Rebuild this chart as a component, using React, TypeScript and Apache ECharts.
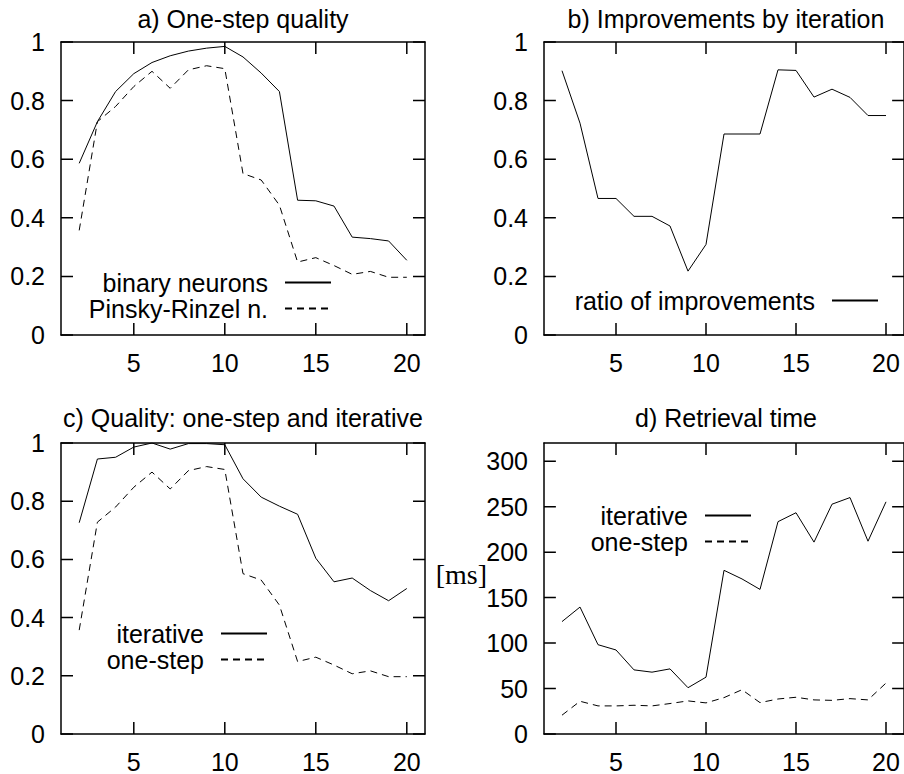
import React, { useEffect, useRef } from 'react';
import * as echarts from 'echarts';

const steps = [2, 3, 4, 5, 6, 7, 8, 9, 10, 11, 12, 13, 14, 15, 16, 17, 18, 19, 20];
const binaryNeurons = [0.586, 0.728, 0.831, 0.892, 0.93, 0.953, 0.969, 0.979, 0.985, 0.949, 0.894, 0.831, 0.46, 0.458, 0.44, 0.334, 0.329, 0.321, 0.255];
const pinskyRinzel = [0.357, 0.728, 0.78, 0.848, 0.9, 0.842, 0.905, 0.919, 0.909, 0.551, 0.529, 0.443, 0.249, 0.264, 0.237, 0.207, 0.217, 0.197, 0.197];
const ratioImprovements = [0.902, 0.723, 0.466, 0.466, 0.405, 0.405, 0.372, 0.218, 0.309, 0.686, 0.686, 0.686, 0.905, 0.903, 0.812, 0.839, 0.811, 0.749, 0.749];
const qualityIterative = [0.726, 0.945, 0.951, 0.986, 1.0, 0.979, 0.998, 0.998, 0.994, 0.877, 0.814, 0.783, 0.755, 0.604, 0.523, 0.536, 0.493, 0.458, 0.5];
const qualityOneStep = [0.357, 0.728, 0.78, 0.848, 0.9, 0.842, 0.905, 0.919, 0.909, 0.551, 0.529, 0.443, 0.249, 0.264, 0.237, 0.207, 0.217, 0.197, 0.197];
const timeIterative = [123.6, 139.6, 98.2, 92.4, 70.5, 68, 71.6, 50.9, 62.5, 180, 170.5, 159, 233.5, 243.3, 211, 252.7, 260, 212, 255.3];
const timeOneStep = [20.7, 36, 30.9, 30.9, 31.6, 30.9, 33.5, 36.4, 34.2, 40, 48.7, 34.5, 38.5, 40.4, 37.5, 37, 38.9, 37.5, 56];

const xTicks = [5, 10, 15, 20];
const qualityTicks = [0, 0.2, 0.4, 0.6, 0.8, 1];
const timeTicks = [0, 50, 100, 150, 200, 250, 300];

const titles = ['a) One-step quality', 'b) Improvements by iteration', 'c) Quality: one-step and iterative', 'd) Retrieval time'];

const SANS = '"Liberation Sans", Arial, Helvetica, sans-serif';
const FS = 25;
const X_MIN = 1;
const X_MAX = 21;

export default function App() {
  const ref = useRef<HTMLDivElement>(null);

  useEffect(() => {
    if (!ref.current) return;
    const chart = echarts.init(ref.current, null, { renderer: 'svg' });

    const grids = [
      { left: 61, top: 42, width: 364, height: 293 },
      { left: 544, top: 42, width: 364, height: 293 },
      { left: 61, top: 443, width: 364, height: 293 },
      { left: 544, top: 443, width: 364, height: 293 },
    ];
    const titlePos = [
      { x: 243, y: 19 },
      { x: 726, y: 19 },
      { x: 243, y: 417.5 },
      { x: 726, y: 418 },
    ];
    const yMaxes = [1, 1, 1, 320];
    const yTickSets = [qualityTicks, qualityTicks, qualityTicks, timeTicks];

    const mkLine = () => ({ show: true, onZero: false, lineStyle: { color: '#000', width: 1.5 } });

    const xAxes: any[] = [];
    const yAxes: any[] = [];
    for (let i = 0; i < 4; i++) {
      xAxes.push({
        gridIndex: i, type: 'value', min: X_MIN, max: X_MAX, position: 'bottom',
        axisLine: mkLine(),
        axisTick: { show: false },
        axisLabel: { show: true, customValues: xTicks, fontSize: FS, color: '#000', fontFamily: SANS, margin: 15 },
        splitLine: { show: false },
      });
    }
    for (let i = 0; i < 4; i++) {
      xAxes.push({
        gridIndex: i, type: 'value', min: X_MIN, max: X_MAX, position: 'top',
        axisLine: mkLine(),
        axisTick: { show: false },
        axisLabel: { show: false },
        splitLine: { show: false },
      });
    }
    for (let i = 0; i < 4; i++) {
      const ax: any = {
        gridIndex: i, type: 'value', min: 0, max: yMaxes[i], position: 'left',
        axisLine: mkLine(),
        axisTick: { show: false },
        axisLabel: { show: true, customValues: yTickSets[i], fontSize: FS, color: '#000', fontFamily: SANS, margin: 16 },
        splitLine: { show: false },
      };
      if (i === 3) {
        ax.name = '[ms]';
        ax.nameLocation = 'middle';
        ax.nameRotate = 0;
        ax.nameGap = 57;
        ax.nameMoveOverlap = false;
        ax.nameTextStyle = { fontFamily: '"Liberation Serif", "Times New Roman", serif', fontSize: 28, color: '#000', verticalAlign: 'bottom' };
      }
      yAxes.push(ax);
    }
    for (let i = 0; i < 4; i++) {
      yAxes.push({
        gridIndex: i, type: 'value', min: 0, max: yMaxes[i], position: 'right',
        axisLine: mkLine(),
        axisTick: { show: false },
        axisLabel: { show: false },
        splitLine: { show: false },
      });
    }

    const mk = (name: string, idx: number, vals: number[], dashed: boolean) => ({
      type: 'line', name, xAxisIndex: idx, yAxisIndex: idx,
      data: steps.map((x, k) => [x, vals[k]]),
      symbol: 'none', silent: true,
      lineStyle: { color: '#000', width: 1, type: dashed ? [7, 5] : 'solid' },
      itemStyle: { color: '#000' },
    });

    // Inward tick marks on all four sides (gnuplot "mirror" style), drawn as short
    // broken line segments in data coordinates so the axes' own scales place them.
    const TICK_PX = 12;
    const tickSeries = (i: number) => {
      const g = grids[i];
      const dy = (yMaxes[i] * TICK_PX) / g.height;
      const dx = ((X_MAX - X_MIN) * TICK_PX) / g.width;
      const d: any[] = [];
      xTicks.forEach((v) => {
        d.push([v, 0], [v, dy], [v, '-']);
        d.push([v, yMaxes[i]], [v, yMaxes[i] - dy], [v, '-']);
      });
      yTickSets[i].forEach((v) => {
        d.push([X_MIN, v], [X_MIN + dx, v], [X_MIN, '-']);
        d.push([X_MAX, v], [X_MAX - dx, v], [X_MAX, '-']);
      });
      return {
        type: 'line', name: 'ticks-' + i, xAxisIndex: i, yAxisIndex: i,
        data: d, symbol: 'none', silent: true, clip: false, connectNulls: false, z: 5,
        lineStyle: { color: '#000', width: 1.5, type: 'solid' },
        itemStyle: { color: '#000' },
      };
    };

    const series: any[] = [
      mk('binary neurons', 0, binaryNeurons, false),
      mk('Pinsky-Rinzel n.', 0, pinskyRinzel, true),
      mk('ratio of improvements', 1, ratioImprovements, false),
      mk('iterative', 2, qualityIterative, false),
      mk('one-step', 2, qualityOneStep, true),
      mk('iterative', 3, timeIterative, false),
      mk('one-step', 3, timeOneStep, true),
      tickSeries(0), tickSeries(1), tickSeries(2), tickSeries(3),
    ];

    const legendBase = {
      orient: 'horizontal', align: 'right', itemWidth: 46, itemHeight: 24, padding: 0,
      selectedMode: false, itemGap: 0,
      itemStyle: { opacity: 0 },
      textStyle: { fontSize: FS, lineHeight: 24, color: '#000', fontFamily: SANS, padding: [0, 12, 0, 0] },
    };
    const legends = [
      { ...legendBase, data: ['binary neurons'], right: 572, top: 270 },
      { ...legendBase, data: ['Pinsky-Rinzel n.'], right: 572, top: 296 },
      { ...legendBase, data: ['ratio of improvements'], right: 25, top: 288 },
      { ...legendBase, data: ['iterative'], right: 636, top: 621 },
      { ...legendBase, data: ['one-step'], right: 636, top: 647 },
      { ...legendBase, data: ['iterative'], right: 152, top: 503 },
      { ...legendBase, data: ['one-step'], right: 152, top: 529 },
    ];

    chart.setOption({
      animation: false,
      backgroundColor: '#fff',
      title: titles.map((t, i) => ({
        text: t, left: titlePos[i].x, top: titlePos[i].y, padding: 0,
        textAlign: 'center', textVerticalAlign: 'middle',
        textStyle: { fontSize: FS, fontWeight: 'normal', color: '#000', fontFamily: SANS },
      })),
      grid: grids,
      xAxis: xAxes,
      yAxis: yAxes,
      legend: legends,
      series,
    });

    return () => chart.dispose();
  }, []);

  return <div ref={ref} style={{ position: 'absolute', left: 0, top: 0, width: 904, height: 774 }} />;
}
